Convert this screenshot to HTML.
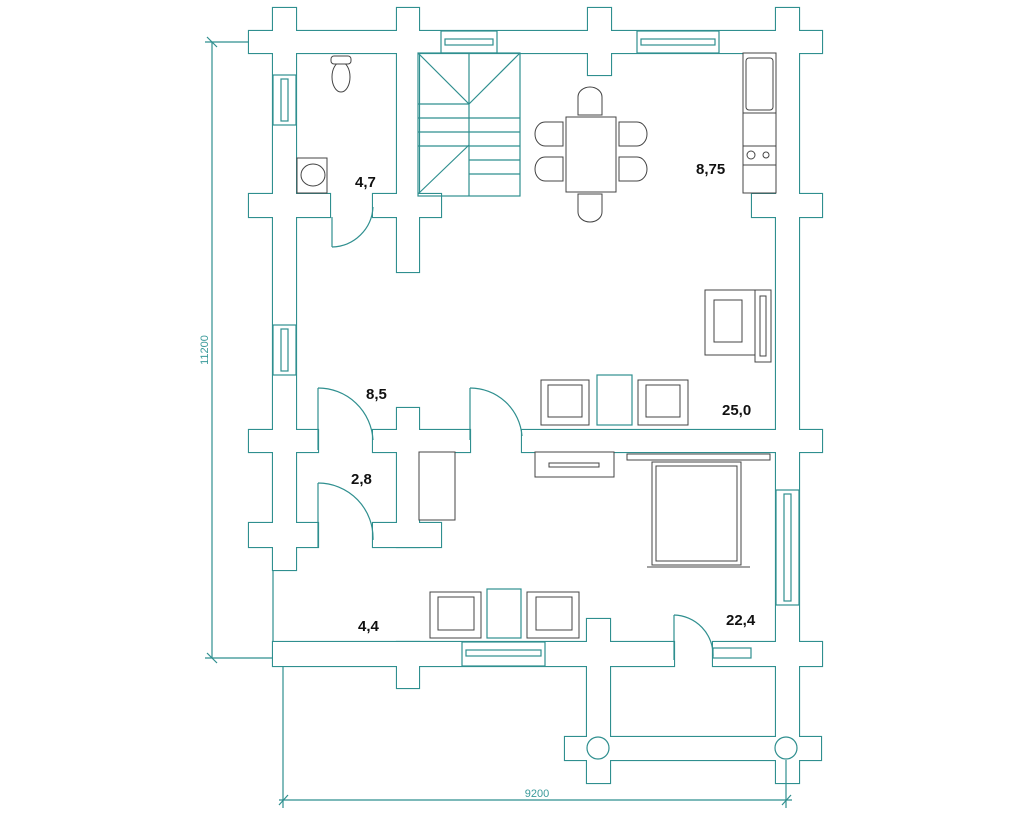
<!DOCTYPE html>
<html><head><meta charset="utf-8"><style>
html,body{margin:0;padding:0;background:#fff;width:1024px;height:819px;overflow:hidden}
svg{display:block}
.lbl{font-family:"Liberation Sans",sans-serif;font-weight:bold;font-size:15px;fill:#111}
.dim{font-family:"Liberation Sans",sans-serif;font-size:11px;fill:#3a9a9a}
</style></head><body>
<svg width="1024" height="819" viewBox="0 0 1024 819" xmlns="http://www.w3.org/2000/svg">
<defs>
<g id="walls">
<rect x="249" y="31" width="573" height="22"/>
<rect x="273" y="8" width="23" height="562"/>
<rect x="397" y="8" width="22" height="264"/>
<rect x="397" y="408" width="22" height="139"/>
<rect x="397" y="642" width="22" height="46"/>
<rect x="588" y="8" width="23" height="67"/>
<rect x="587" y="619" width="23" height="164"/>
<rect x="776" y="8" width="23" height="775"/>
<rect x="249" y="194" width="81" height="23"/>
<rect x="373" y="194" width="68" height="23"/>
<rect x="752" y="194" width="70" height="23"/>
<rect x="249" y="430" width="69" height="22"/>
<rect x="373" y="430" width="97" height="22"/>
<rect x="522" y="430" width="300" height="22"/>
<rect x="249" y="523" width="69" height="24"/>
<rect x="373" y="523" width="68" height="24"/>
<rect x="273" y="642" width="401" height="24"/>
<rect x="713" y="642" width="109" height="24"/>
<rect x="565" y="737" width="256" height="23"/>
</g>
</defs>
<g fill="none" stroke="#2f8f8f" stroke-width="2.2"><use href="#walls"/></g>
<g fill="#fff" stroke="none"><use href="#walls"/></g>
<g fill="none" stroke="#2f8f8f" stroke-width="1.2">
<line x1="273" y1="570" x2="273" y2="642"/>
<!-- windows -->
<rect x="441" y="31" width="56" height="22" fill="#fff"/><rect x="445" y="39" width="48" height="6"/>
<rect x="637" y="31" width="82" height="22" fill="#fff"/><rect x="641" y="39" width="74" height="6"/>
<rect x="273" y="75" width="23" height="50" fill="#fff"/><rect x="281" y="79" width="7" height="42"/>
<rect x="273" y="325" width="23" height="50" fill="#fff"/><rect x="281" y="329" width="7" height="42"/>
<rect x="462" y="642" width="83" height="24" fill="#fff"/><rect x="466" y="650" width="75" height="6"/>
<rect x="776" y="490" width="23" height="115" fill="#fff"/><rect x="784" y="494" width="7" height="107"/>
<rect x="713" y="648" width="38" height="10" fill="#fff"/>
<!-- porch pillars -->
<circle cx="598" cy="748" r="11" fill="#fff"/><circle cx="786" cy="748" r="11" fill="#fff"/>
<!-- doors -->
<line x1="332" y1="217" x2="332" y2="247"/><path d="M332 247 A42 42 0 0 0 373 207"/>
<line x1="318" y1="388" x2="318" y2="450"/><path d="M318 388 A55 55 0 0 1 373 440"/>
<line x1="470" y1="388" x2="470" y2="440"/><path d="M470 388 A52 52 0 0 1 522 436"/>
<line x1="318" y1="483" x2="318" y2="547"/><path d="M318 483 A55 55 0 0 1 373 540"/>
<line x1="674" y1="615" x2="674" y2="660"/><path d="M674 615 A40 40 0 0 1 713 656"/>
<!-- stairs -->
<rect x="418" y="53" width="102" height="143"/>
<line x1="469" y1="53" x2="469" y2="196"/>
<line x1="418" y1="53" x2="469" y2="104"/><line x1="520" y1="53" x2="469" y2="104"/>
<line x1="418" y1="194" x2="469" y2="145"/>
<line x1="418" y1="104" x2="469" y2="104"/><line x1="418" y1="118" x2="469" y2="118"/><line x1="418" y1="132" x2="469" y2="132"/><line x1="418" y1="146" x2="469" y2="146"/>
<line x1="469" y1="118" x2="520" y2="118"/><line x1="469" y1="132" x2="520" y2="132"/><line x1="469" y1="146" x2="520" y2="146"/><line x1="469" y1="160" x2="520" y2="160"/><line x1="469" y1="174" x2="520" y2="174"/>
<rect x="597" y="375" width="35" height="50"/>
<rect x="487" y="589" width="34" height="49"/>
<!-- dimensions -->
<line x1="212" y1="42" x2="212" y2="658"/><line x1="205" y1="42" x2="249" y2="42"/><line x1="205" y1="658" x2="273" y2="658"/>
<line x1="207" y1="37" x2="217" y2="47"/><line x1="207" y1="653" x2="217" y2="663"/>
<line x1="279" y1="800" x2="792" y2="800"/><line x1="283" y1="666" x2="283" y2="808"/><line x1="786" y1="760" x2="786" y2="808"/>
<line x1="279" y1="805" x2="288" y2="795"/><line x1="782" y1="805" x2="791" y2="795"/>
</g>
<text class="dim" x="537" y="797" text-anchor="middle">9200</text>
<text class="dim" transform="translate(208,350) rotate(-90)" text-anchor="middle">11200</text>
<!-- furniture -->
<g fill="#fff" stroke="#444" stroke-width="1">
<ellipse cx="341" cy="77" rx="9" ry="15"/><rect x="331" y="56" width="20" height="8" rx="3"/>
<rect x="297" y="158" width="30" height="35"/><ellipse cx="313" cy="175" rx="12" ry="11"/>
<rect x="566" y="117" width="50" height="75"/>
<path d="M578 115 v-18 a12 10 0 0 1 24 0 v18 z"/><path d="M578 194 v18 a12 10 0 0 0 24 0 v-18 z"/>
<path d="M563 122 h-18 a10 12 0 0 0 0 24 h18 z"/><path d="M563 157 h-18 a10 12 0 0 0 0 24 h18 z"/>
<path d="M619 122 h18 a10 12 0 0 1 0 24 h-18 z"/><path d="M619 157 h18 a10 12 0 0 1 0 24 h-18 z"/>
<rect x="743" y="53" width="33" height="140"/><rect x="746" y="58" width="27" height="52" rx="3"/>
<line x1="743" y1="113" x2="776" y2="113"/><line x1="743" y1="146" x2="776" y2="146"/><line x1="743" y1="165" x2="776" y2="165"/>
<circle cx="751" cy="155" r="4"/><circle cx="766" cy="155" r="3"/>
<rect x="705" y="290" width="50" height="65"/><rect x="714" y="300" width="28" height="42"/><rect x="755" y="290" width="16" height="72"/><rect x="760" y="296" width="6" height="60"/>
<rect x="541" y="380" width="48" height="45"/><rect x="548" y="385" width="34" height="32"/>
<rect x="638" y="380" width="50" height="45"/><rect x="646" y="385" width="34" height="32"/>
<rect x="419" y="452" width="36" height="68"/>
<rect x="535" y="452" width="79" height="25"/><rect x="549" y="463" width="50" height="4"/>
<rect x="627" y="454" width="143" height="6"/><rect x="652" y="462" width="89" height="103"/><rect x="656" y="466" width="81" height="95"/><line x1="647" y1="567" x2="750" y2="567"/>
<rect x="430" y="592" width="51" height="46"/><rect x="438" y="597" width="36" height="33"/>
<rect x="527" y="592" width="52" height="46"/><rect x="536" y="597" width="36" height="33"/>
</g>
<text class="lbl" x="355" y="187">4,7</text>
<text class="lbl" x="696" y="174">8,75</text>
<text class="lbl" x="366" y="399">8,5</text>
<text class="lbl" x="722" y="415">25,0</text>
<text class="lbl" x="351" y="484">2,8</text>
<text class="lbl" x="358" y="631">4,4</text>
<text class="lbl" x="726" y="625">22,4</text>
</svg>
</body></html>
